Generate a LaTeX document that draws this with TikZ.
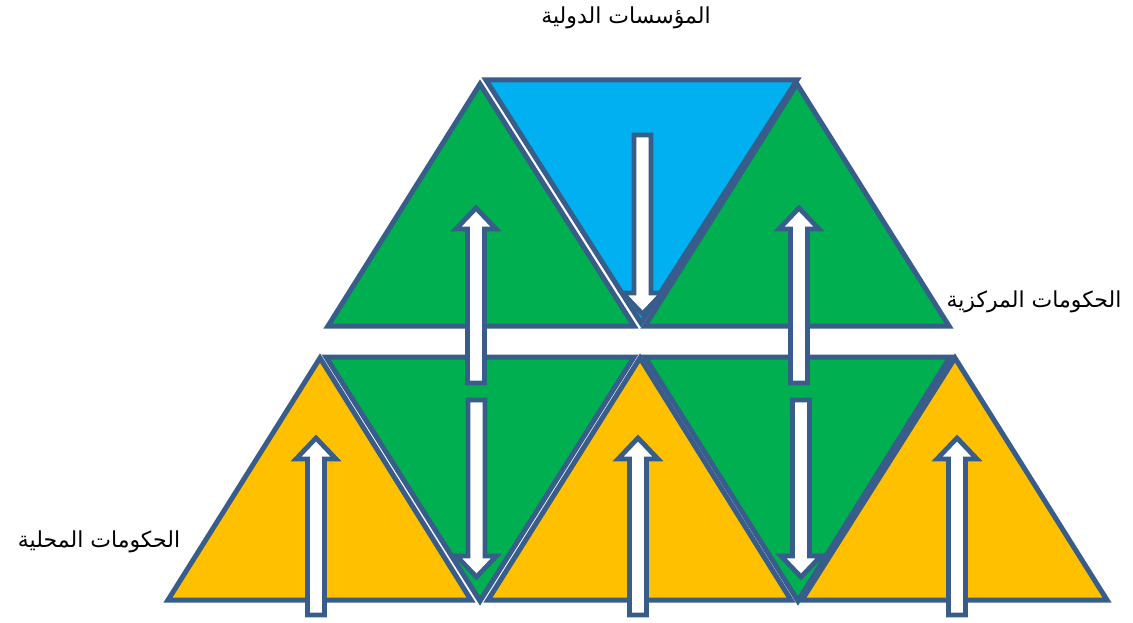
\documentclass[tikz,border=0pt]{standalone}
\usepackage{fontspec}
\TeXXeTstate=1
\newfontfamily\arabicfont[Script=Arabic]{DejaVu Sans}
\definecolor{edgeblue}{HTML}{385D8A}
\definecolor{trigreen}{HTML}{00B050}
\definecolor{tribluefill}{HTML}{00B0F0}
\definecolor{triyellow}{HTML}{FFC000}
\tikzset{
  tri/.style={draw=edgeblue, line width=5pt, line join=miter},
  blockarrow/.style={draw=edgeblue, fill=white, line width=4.8pt, line join=miter},
  lbl/.style={font=\arabicfont\fontsize{22}{26}\selectfont, inner sep=0pt}
}
\newcommand{\myUpArrow}[3]{% cx, tip y, bottom y (pixel coords)
  \draw[blockarrow] (#1-8.5,#3) -- (#1-8.5,#2+21) -- (#1-20,#2+21) -- (#1,#2) -- (#1+20,#2+21) -- (#1+8.5,#2+21) -- (#1+8.5,#3) -- cycle;}
\newcommand{\myDownArrow}[3]{% cx, top y, tip y
  \draw[blockarrow] (#1-8.5,#2) -- (#1-8.5,#3-21) -- (#1-20,#3-21) -- (#1,#3) -- (#1+20,#3-21) -- (#1+8.5,#3-21) -- (#1+8.5,#2) -- cycle;}
\begin{document}
\begin{tikzpicture}[x=1pt,y=-1pt]
\useasboundingbox (0,0) rectangle (1133,623);
% top row
\draw[tri, fill=trigreen] (328,326) -- (480,84) -- (634,326) -- cycle;
\draw[tri, fill=tribluefill] (486,80) -- (797,80) -- (641,323) -- cycle;
\draw[tri, fill=trigreen] (645,326) -- (797,84) -- (949,326) -- cycle;
% bottom row
\draw[tri, fill=trigreen] (326,357) -- (634,357) -- (480,601) -- cycle;
\draw[tri, fill=trigreen] (645,357) -- (950,357) -- (798,601) -- cycle;
\draw[tri, fill=triyellow] (168,600) -- (320,358) -- (471,600) -- cycle;
\draw[tri, fill=triyellow] (488,600) -- (640,358) -- (791,600) -- cycle;
\draw[tri, fill=triyellow] (802,600) -- (955,358) -- (1107,600) -- cycle;
% arrows
\myDownArrow{642.5}{135}{314}
\myDownArrow{476.5}{400}{577}
\myDownArrow{801}{400}{577}
\myUpArrow{476}{208}{383}
\myUpArrow{799}{208}{383}
\myUpArrow{316}{438}{615}
\myUpArrow{638}{438}{615}
\myUpArrow{957}{438}{615}
% labels
\node[lbl] (intl) at (626,18) {\beginR المؤسسات الدولية\endR};
\node[lbl] (central) at (1034,302) {\beginR الحكومات المركزية\endR};
\node[lbl] (local) at (99,542) {\beginR الحكومات المحلية\endR};
\end{tikzpicture}
\end{document}
